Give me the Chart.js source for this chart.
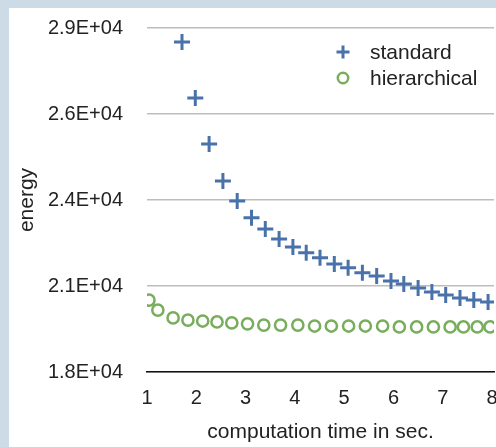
<!DOCTYPE html>
<html>
<head>
<meta charset="utf-8">
<script src="https://cdn.jsdelivr.net/npm/chart.js@4.4.0/dist/chart.umd.min.js"></script>
<style>
  html, body { margin: 0; padding: 0; background: #cddbe7; }
  #wrap { position: absolute; left: 9px; top: 8px; width: 487px; height: 439px; background: #fff; }
</style>
</head>
<body>
<div id="wrap"><canvas id="myChart" width="487" height="439"></canvas></div>
<script>
// data

const timeStandard = [1.71, 1.98, 2.26, 2.54, 2.83, 3.12, 3.40, 3.68, 3.96, 4.23, 4.51, 4.80,
  5.08, 5.37, 5.66, 5.95, 6.21, 6.50, 6.78, 7.06, 7.35, 7.63, 7.92];
const energyStandard = [28550, 26760, 25290, 24110, 23470, 22930, 22570, 22250, 22000, 21810, 21650, 21450,
  21330, 21170, 21070, 20910, 20810, 20690, 20560, 20460, 20370, 20300, 20240];

const timeHier = [1.04, 1.22, 1.53, 1.83, 2.13, 2.42, 2.72, 3.04, 3.37, 3.71, 4.06, 4.40,
  4.74, 5.09, 5.43, 5.78, 6.12, 6.47, 6.81, 7.15, 7.42, 7.70, 7.96];
const energyHier = [20300, 19980, 19730, 19660, 19630, 19600, 19570, 19540, 19500, 19500, 19500, 19470,
  19470, 19470, 19470, 19470, 19440, 19440, 19440, 19440, 19440, 19440, 19440];

const seriesNames = ['standard', 'hierarchical'];

const xTicks = [1, 2, 3, 4, 5, 6, 7, 8];
const yTicks = [18000, 20750, 23500, 26250, 29000];
const yTickLabels = ['1.8E+04', '2.1E+04', '2.4E+04', '2.6E+04', '2.9E+04'];

// styles
const BLUE = '#4a72aa';
const GREEN = '#78ad5c';
const TEXT = '#222';
const FONT = "'Liberation Sans', Arial, sans-serif";

function toPoints(xs, ys) {
  return xs.map((x, i) => ({ x: x, y: ys[i] }));
}

// legend drawn inside the plot, top right
const insideLegend = {
  id: 'insideLegend',
  afterDatasetsDraw(chart) {
    const ctx = chart.ctx;
    const x0 = 334, y0 = 44, rowH = 26;
    chart.data.datasets.forEach((ds, i) => {
      const y = y0 + i * rowH;
      ctx.save();
      ctx.strokeStyle = ds.borderColor;
      ctx.beginPath();
      if (ds.pointStyle === 'cross') {
        ctx.lineWidth = 3;
        ctx.moveTo(x0 - 6.5, y); ctx.lineTo(x0 + 6.5, y);
        ctx.moveTo(x0, y - 6.5); ctx.lineTo(x0, y + 6.5);
      } else {
        ctx.lineWidth = 2.5;
        ctx.arc(x0, y, 5.2, 0, Math.PI * 2);
      }
      ctx.stroke();
      ctx.fillStyle = TEXT;
      ctx.font = '21px ' + FONT;
      ctx.textBaseline = 'middle';
      ctx.textAlign = 'left';
      ctx.fillText(ds.label, x0 + 27, y + 1);
      ctx.restore();
    });
  }
};

const data = {
  datasets: [{
    label: seriesNames[0],
    data: toPoints(timeStandard, energyStandard),
    pointStyle: 'cross',
    pointRadius: 8,
    pointBorderWidth: 3,
    borderColor: BLUE,
    backgroundColor: BLUE,
  }, {
    label: seriesNames[1],
    data: toPoints(timeHier, energyHier),
    pointStyle: 'circle',
    pointRadius: 5.6,
    pointBorderWidth: 2.5,
    borderColor: GREEN,
    backgroundColor: 'rgba(0,0,0,0)',
  }]
};

const config = {
  type: 'scatter',
  data: data,
  plugins: [insideLegend],
  options: {
    responsive: false,
    animation: false,
    events: [],
    layout: { autoPadding: false, padding: { top: 20, right: 2, left: 0, bottom: 0 } },
    plugins: {
      legend: { display: false },
      tooltip: { enabled: false },
    },
    scales: {
      x: {
        type: 'linear',
        min: 1,
        max: 8.04,
        afterBuildTicks: (scale) => { scale.ticks = xTicks.map(v => ({ value: v })); },
        afterFit: (scale) => {
          scale.height = 75;
          scale.paddingLeft = 0;
          scale.paddingRight = 0;
        },
        grid: { display: false, drawTicks: false },
        border: { display: true, color: '#111', width: 1.5 },
        ticks: { color: TEXT, padding: 14, font: { size: 20, family: FONT }, maxRotation: 0 },
        title: {
          display: true,
          text: 'computation time in sec.',
          color: TEXT,
          font: { size: 21, family: FONT },
          padding: { top: 4, bottom: 2 },
        },
      },
      y: {
        type: 'linear',
        min: 18000,
        max: 29000,
        afterBuildTicks: (scale) => { scale.ticks = yTicks.map(v => ({ value: v })); },
        afterFit: (scale) => {
          scale.width = 138;
          scale.paddingTop = 0;
          scale.paddingBottom = 0;
        },
        grid: { color: '#bdbdbd', lineWidth: 1.5, drawTicks: false },
        border: { display: false },
        ticks: {
          color: TEXT,
          padding: 24,
          font: { size: 20, family: FONT },
          callback: (value) => yTickLabels[yTicks.indexOf(value)],
        },
        title: {
          display: true,
          text: 'energy',
          color: TEXT,
          font: { size: 21, family: FONT },
          padding: { top: 6, bottom: 0 },
        },
      },
    },
  }
};

var ctx = document.getElementById('myChart').getContext('2d');
var myChart = new Chart(ctx, config);
</script>
</body>
</html>
